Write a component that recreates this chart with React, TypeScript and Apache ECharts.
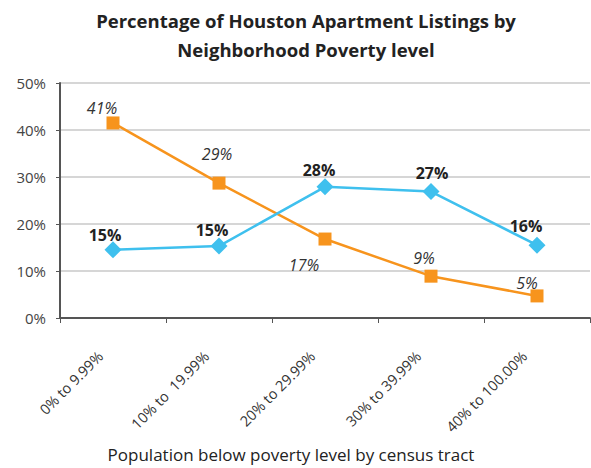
import React, { useEffect, useRef } from "react";
import * as echarts from "echarts";

const categories = ["0% to 9.99%", "10% to  19.99%", "20% to 29.99%", "30% to 39.99%", "40% to 100.00%"];
const blueValues = [14.5, 15.3, 27.9, 26.9, 15.5];
const orangeValues = [41.5, 28.7, 16.8, 8.9, 4.7];
const blueLabels = ["15%", "15%", "28%", "27%", "16%"];
const orangeLabels = ["41%", "29%", "17%", "9%", "5%"];
const yTicks = [0, 10, 20, 30, 40, 50];

const FONT = "'Open Sans', 'Liberation Sans', sans-serif";

export default function App() {
  const ref = useRef<HTMLDivElement>(null);
  useEffect(() => {
    document.body.style.margin = "0";
    document.body.style.overflow = "hidden";
    const chart = echarts.init(ref.current!, null, { renderer: "svg" });
    const blueOffsets = [[-8, -15], [-7, -16], [-6, -17], [1, -19], [-11, -19]];
    const orangeOffsets = [[-11, -15], [-2, -29], [-21, 26], [-7, -18], [-10, -13]];
    chart.setOption({
      animation: false,
      backgroundColor: "#ffffff",
      title: {
        text: "Percentage of Houston Apartment Listings by\nNeighborhood Poverty level",
        left: 301,
        textAlign: "center",
        top: 1,
        textStyle: { fontFamily: FONT, fontSize: 18.5, fontWeight: "bold", color: "#222", lineHeight: 29 },
      },
      grid: { left: 60, right: 1, top: 83, bottom: 150, outerBoundsMode: "none", containLabel: false },
      xAxis: {
        type: "category",
        data: categories,
        name: "Population below poverty level by census tract",
        nameLocation: "middle",
        nameGap: 128,
        nameTextStyle: { fontFamily: FONT, fontSize: 17, color: "#222", padding: [0, 68, 0, 0] },
        axisLine: { lineStyle: { color: "#555", width: 2 } },
        axisTick: { show: true, length: 5, lineStyle: { color: "#555" } },
        axisLabel: {
          rotate: 45,
          fontFamily: FONT,
          fontSize: 14.5,
          color: "#333",
          margin: 23,
          padding: [0, 18, 0, 0],
        },
      },
      yAxis: {
        type: "value",
        min: yTicks[0],
        max: yTicks[yTicks.length - 1],
        interval: 10,
        axisLine: { show: true, lineStyle: { color: "#555", width: 2 } },
        axisTick: { show: true, length: 4, lineStyle: { color: "#555" } },
        axisLabel: { formatter: (v: number) => v + "%", fontFamily: FONT, fontSize: 15, color: "#444", margin: 14 },
        splitLine: { lineStyle: { color: "#c8c8c8", width: 1.5 } },
      },
      series: [
        {
          type: "line",
          data: blueValues.map((v, i) => ({
            value: v,
            label: {
              show: true,
              position: "inside",
              offset: blueOffsets[i],
              formatter: blueLabels[i],
              fontWeight: "bold",
              fontFamily: FONT,
              fontSize: 16,
              color: "#222",
              textBorderWidth: 0,
            },
          })),
          symbol: "diamond",
          symbolSize: 17,
          lineStyle: { color: "#3FC0EE", width: 2.5 },
          itemStyle: { color: "#3FC0EE" },
          z: 3,
        },
        {
          type: "line",
          data: orangeValues.map((v, i) => ({
            value: v,
            label: {
              show: true,
              position: "inside",
              offset: orangeOffsets[i],
              formatter: orangeLabels[i],
              fontStyle: "italic",
              fontFamily: FONT,
              fontSize: 16,
              color: "#333",
              textBorderWidth: 0,
            },
          })),
          symbol: "rect",
          symbolSize: 13,
          lineStyle: { color: "#F7941D", width: 2.5 },
          itemStyle: { color: "#F7941D" },
          z: 2,
        },
      ],
    });
    return () => chart.dispose();
  }, []);
  return (
    <div style={{ position: "fixed", left: 0, top: 0, width: 591, height: 468, overflow: "hidden" }}>
      <div ref={ref} style={{ width: 591, height: 468 }} />
    </div>
  );
}
